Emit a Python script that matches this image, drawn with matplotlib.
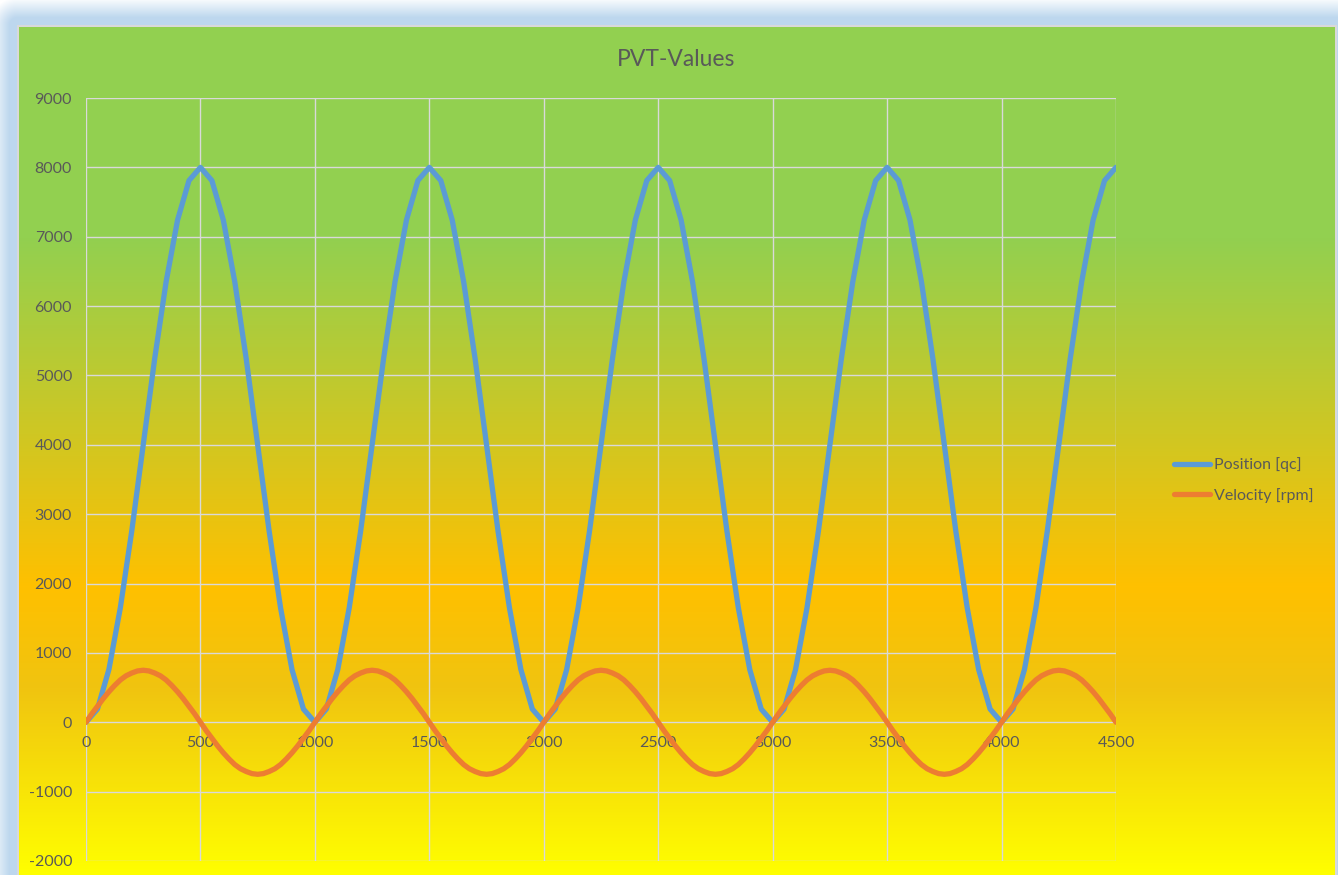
import numpy as np
import matplotlib.pyplot as plt
from matplotlib.colors import to_rgb

# position read every 50 ms
zeit = list(range(0, 4501, 50))

position = [0, 190, 760, 1650, 2760, 4000, 5240, 6350, 7240, 7810,
            8000, 7810, 7240, 6350, 5240, 4000, 2760, 1650, 760, 190,
            0, 190, 760, 1650, 2760, 4000, 5240, 6350, 7240, 7810,
            8000, 7810, 7240, 6350, 5240, 4000, 2760, 1650, 760, 190,
            0, 190, 760, 1650, 2760, 4000, 5240, 6350, 7240, 7810,
            8000, 7810, 7240, 6350, 5240, 4000, 2760, 1650, 760, 190,
            0, 190, 760, 1650, 2760, 4000, 5240, 6350, 7240, 7810,
            8000, 7810, 7240, 6350, 5240, 4000, 2760, 1650, 760, 190,
            0, 190, 760, 1650, 2760, 4000, 5240, 6350, 7240, 7810,
            8000]

# velocity is a smooth curve, read every 25 ms
zeit_v = list(range(0, 4501, 25))

vitesse = [0, 120, 230, 340, 440, 530, 610, 670, 710, 740,
           750, 740, 710, 670, 610, 530, 440, 340, 230, 120,
           0, -120, -230, -340, -440, -530, -610, -670, -710, -740,
           -750, -740, -710, -670, -610, -530, -440, -340, -230, -120,
           0, 120, 230, 340, 440, 530, 610, 670, 710, 740,
           750, 740, 710, 670, 610, 530, 440, 340, 230, 120,
           0, -120, -230, -340, -440, -530, -610, -670, -710, -740,
           -750, -740, -710, -670, -610, -530, -440, -340, -230, -120,
           0, 120, 230, 340, 440, 530, 610, 670, 710, 740,
           750, 740, 710, 670, 610, 530, 440, 340, 230, 120,
           0, -120, -230, -340, -440, -530, -610, -670, -710, -740,
           -750, -740, -710, -670, -610, -530, -440, -340, -230, -120,
           0, 120, 230, 340, 440, 530, 610, 670, 710, 740,
           750, 740, 710, 670, 610, 530, 440, 340, 230, 120,
           0, -120, -230, -340, -440, -530, -610, -670, -710, -740,
           -750, -740, -710, -670, -610, -530, -440, -340, -230, -120,
           0, 120, 230, 340, 440, 530, 610, 670, 710, 740,
           750, 740, 710, 670, 610, 530, 440, 340, 230, 120,
           0]

noms = ['Position [qc]', 'Velocity [rpm]']
x_ticks = list(range(0, 4501, 500))
y_ticks = list(range(-2000, 9001, 1000))

W, H = 1338, 875
fig = plt.figure(figsize=(W / 100, H / 100), dpi=100)
fig.patch.set_facecolor('white')

# background: blue glow, grey frame, vertical gradient green -> orange -> yellow
x0, y0, x1 = 17, 25, 1336
yy, xx = np.mgrid[0:H, 0:W]
dx = np.maximum(np.maximum(x0 - xx, xx - x1), 0)
dy = np.maximum(y0 - yy, 0)
d = np.sqrt(dx ** 2 + dy ** 2)
alpha = np.clip((28 - d) / 20, 0, 1)[..., None]
bleu = np.array(to_rgb('#BDD7EE'))
fond = (1 - alpha) * np.ones(3) + alpha * bleu

stops = [0.0, 0.25, 0.66, 0.78, 1.0]
couleurs = ['#92D050', '#92D050', '#FFC000', '#F0C410', '#FFFF00']
rgb = np.array([to_rgb(c) for c in couleurs])
t = (np.arange(H) - y0) / (H - y0)
grad = np.stack([np.interp(t, stops, rgb[:, k]) for k in range(3)], axis=1)
inside = (xx >= x0) & (xx <= x1) & (yy >= y0)
fond[inside] = grad[yy[inside]]
border = inside & ((xx < x0 + 2) | (xx > x1 - 2) | (yy < y0 + 2))
fond[border] = to_rgb('#D9D9D9')

bg = fig.add_axes([0, 0, 1, 1], zorder=-5)
bg.imshow(fond, aspect='auto', interpolation='nearest')
bg.axis('off')

plt.rcParams['font.family'] = ['Lato', 'DejaVu Sans']
plt.rcParams['axes.unicode_minus'] = False

ax = fig.add_axes([86 / W, (H - 861) / H, 1030 / W, 763 / H], zorder=1)
ax.set_facecolor('none')
ax.plot(zeit, position, color='#5B9BD5', lw=3.8, solid_joinstyle='round',
        solid_capstyle='round', label=noms[0], zorder=3)
ax.plot(zeit_v, vitesse, color='#ED7D31', lw=3.8, solid_joinstyle='round',
        solid_capstyle='round', label=noms[1], zorder=4)

ax.set_xlim(0, 4500)
ax.set_ylim(-2000, 9000)
ax.set_xticks(x_ticks)
ax.set_yticks(y_ticks)
ax.grid(True, color='#D9D9D9', lw=1.0)
ax.set_axisbelow(True)
for s in ax.spines.values():
    s.set_visible(False)
ax.spines['bottom'].set_position(('data', 0))
ax.tick_params(length=0, labelsize=11.5, labelcolor='#595959')
ax.tick_params(axis='x', pad=10)
ax.tick_params(axis='y', pad=10)

fig.text(676 / W, 1 - 60 / H, 'PVT-Values', ha='center', va='center',
         fontsize=16.5, color='#595959')

fig.legend(loc='center left', bbox_to_anchor=(1174 / W, 1 - 480 / H),
           frameon=False, fontsize=11.5, labelcolor='#595959',
           handlelength=2.25, handletextpad=0.25, labelspacing=0.95,
           borderpad=0, borderaxespad=0)

fig.savefig('out.png', dpi=100)
